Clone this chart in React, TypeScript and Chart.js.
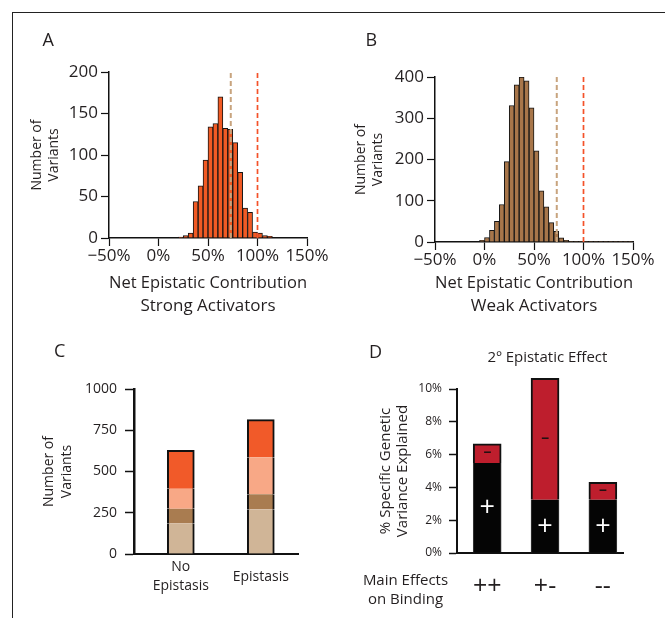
import React, { useEffect, useRef } from 'react';
import { Chart, registerables } from 'chart.js';

Chart.register(...registerables);

const FONT = "'Open Sans', 'Noto Sans', sans-serif";
const INK = '#231F20';

// ---------- Panel A / B : histograms ----------
const BIN_WIDTH = 5;
const histTickValues = [-50, 0, 50, 100, 150];
const strongBinStart = [20, 25, 30, 35, 40, 45, 50, 55, 60, 65, 70, 75, 80, 85, 90, 95, 100, 105, 110];
const strongCounts = [1, 3, 6, 44, 63, 94, 134, 138, 170, 132, 131, 115, 79, 36, 31, 7, 6, 3, 2];
const weakBinStart = [-5, 0, 5, 10, 15, 20, 25, 30, 35, 40, 45, 50, 55, 60, 65, 70, 75, 80, 85, 90, 95, 100, 105, 110, 115, 120, 125, 130, 135, 140, 145];
const weakCounts = [4, 11, 28, 50, 91, 195, 331, 381, 400, 391, 325, 221, 124, 85, 47, 26, 10, 4, 1, 1, 1, 1, 1, 1, 1, 1, 1, 1, 1, 1, 1];
const strongYTicks = [0, 50, 100, 150, 200];
const weakYTicks = [0, 100, 200, 300, 400];
const observedLine = 73; // tan dashed
const additiveLine = 100; // red dashed

// ---------- Panel C : stacked bars ----------
const cCategories = [['No', 'Epistasis'], ['Epistasis']];
const cTan = [186, 271];
const cBrown = [89, 91];
const cSalmon = [121, 224];
const cOrange = [232, 228];
const cYTicks = [0, 250, 500, 750, 1000];

// ---------- Panel D : variance explained ----------
const dCategories = ['++', '+-', '--'];
const dPositive = [5.49, 3.25, 3.25];
const dNegative = [1.16, 7.4, 1.06];
const dSegmentMarks = ['+', '\u2212'];
const dYTicks = [0, 2, 4, 6, 8, 10];

const pct = (v: number) => (v < 0 ? '\u2212' : '') + Math.abs(v) + '%';

function setTicks(values: number[]) {
  return (s: any) => {
    s.ticks = values.map((v) => ({ value: v }));
  };
}

function histConfig(
  starts: number[],
  counts: number[],
  color: string,
  yTicks: number[],
  title2: string,
  yTitlePad: number,
  yWidth: number,
  xHeight: number,
  padTop: number,
  padRight: number
): any {
  const yMax = yTicks[yTicks.length - 1];
  return {
    type: 'bar',
    data: {
      datasets: [
        {
          type: 'line',
          data: [
            { x: observedLine, y: 0 },
            { x: observedLine, y: yMax },
          ],
          borderColor: '#C8A47E',
          borderWidth: 2,
          borderDash: [5, 3],
          pointRadius: 0,
          order: 0,
        },
        {
          type: 'line',
          data: [
            { x: additiveLine, y: 0 },
            { x: additiveLine, y: yMax },
          ],
          borderColor: '#F4522A',
          borderWidth: 1.7,
          borderDash: [5, 3],
          pointRadius: 0,
          order: 0,
        },
        {
          type: 'bar',
          data: starts.map((s, i) => ({ x: s + BIN_WIDTH / 2, y: counts[i] })),
          backgroundColor: color,
          borderColor: '#151515',
          borderWidth: 1,
          barPercentage: 1,
          categoryPercentage: 1,
          order: 1,
        },
      ],
    },
    options: {
      responsive: false,
      animation: false,
      events: [],
      layout: { padding: { top: padTop, right: padRight, left: 0, bottom: 0 } },
      plugins: { legend: { display: false }, tooltip: { enabled: false } },
      scales: {
        x: {
          type: 'linear',
          min: histTickValues[0],
          max: histTickValues[histTickValues.length - 1],
          offset: false,
          afterBuildTicks: setTicks(histTickValues),
          afterFit: (s: any) => {
            s.height = xHeight;
          },
          grid: { display: true, drawOnChartArea: false, drawTicks: true, tickLength: 8, tickColor: '#111', tickWidth: 1.2, offset: false },
          border: { display: true, color: '#111', width: 1.5 },
          ticks: { callback: (v: number) => pct(v), font: { family: FONT, size: 17 }, color: INK, padding: 0, maxRotation: 0, autoSkip: false },
          title: {
            display: true,
            text: ['Net Epistatic Contribution', title2],
            font: { family: FONT, size: 17, lineHeight: 23 / 17 },
            color: INK,
            padding: { top: 0, bottom: 6 },
          },
        },
        y: {
          min: 0,
          max: yMax,
          afterBuildTicks: setTicks(yTicks),
          afterFit: (s: any) => {
            s.width = yWidth;
          },
          grid: { display: true, drawOnChartArea: false, drawTicks: true, tickLength: 8, tickColor: '#111', tickWidth: 1.2 },
          border: { display: true, color: '#111', width: 1.5 },
          ticks: { callback: (v: number) => String(v), font: { family: FONT, size: 17 }, color: INK, padding: 3 },
          title: {
            display: true,
            text: ['Number of', 'Variants'],
            font: { family: FONT, size: 14, lineHeight: 1.25 },
            color: INK,
            padding: { top: yTitlePad, bottom: 0 },
          },
        },
      },
    },
  };
}

function cConfig(): any {
  const mk = (vals: number[], color: string, top: boolean) => ({
    data: vals.map((v, i) => ({ x: i + 1, y: v })),
    backgroundColor: color,
    borderColor: '#111',
    borderWidth: top ? { top: 2, left: 2, right: 2, bottom: 0 } : { top: 0, left: 2, right: 2, bottom: 0 },
    borderSkipped: false,
    barThickness: 27,
  });
  return {
    type: 'bar',
    data: {
      datasets: [
        mk(cTan, '#D0B597', false),
        mk(cBrown, '#A97C50', false),
        mk(cSalmon, '#F8A886', false),
        mk(cOrange, '#F15A29', true),
      ],
    },
    options: {
      responsive: false,
      animation: false,
      events: [],
      layout: { padding: { top: 59, right: 32, left: 0, bottom: 0 } },
      plugins: { legend: { display: false }, tooltip: { enabled: false } },
      scales: {
        x: {
          type: 'linear',
          stacked: true,
          min: 0.415,
          max: 2.465,
          offset: false,
          afterBuildTicks: setTicks([1, 2]),
          afterFit: (s: any) => {
            s.height = 64;
          },
          grid: { display: true, drawOnChartArea: false, drawTicks: false },
          border: { display: true, color: '#111', width: 2 },
          ticks: {
            callback: (v: number) => cCategories[Math.round(v) - 1],
            font: { family: FONT, size: 14, lineHeight: 1.39 },
            color: INK,
            padding: 13,
            crossAlign: 'center',
            maxRotation: 0,
            autoSkip: false,
          },
        },
        y: {
          stacked: true,
          min: 0,
          max: cYTicks[cYTicks.length - 1],
          afterBuildTicks: setTicks(cYTicks),
          afterFit: (s: any) => {
            s.width = 120;
          },
          grid: { display: true, drawOnChartArea: false, drawTicks: true, tickLength: 9, tickColor: '#111', tickWidth: 1.5 },
          border: { display: true, color: '#111', width: 2.5 },
          ticks: { callback: (v: number) => String(v), font: { family: FONT, size: 14 }, color: INK, padding: 8 },
          title: {
            display: true,
            text: ['Number of', 'Variants'],
            font: { family: FONT, size: 14, lineHeight: 1.3 },
            color: INK,
            padding: { top: 26, bottom: 0 },
          },
        },
      },
    },
  };
}

const segmentMarksPlugin = {
  id: 'segmentMarks',
  afterDatasetsDraw(chart: any) {
    const ctx = chart.ctx;
    chart.data.datasets.forEach((_ds: any, di: number) => {
      const meta = chart.getDatasetMeta(di);
      const mark = dSegmentMarks[di];
      meta.data.forEach((el: any) => {
        const p = el.getProps(['x', 'y', 'base'], true);
        ctx.save();
        ctx.textAlign = 'center';
        ctx.textBaseline = 'middle';
        if (di === 0) {
          ctx.font = `27px ${FONT}`;
          ctx.fillStyle = '#FFFFFF';
          ctx.fillText(mark, p.x, (p.y + p.base) / 2 + 1);
        } else {
          ctx.font = `bold 14px ${FONT}`;
          ctx.fillStyle = '#1a1010';
          ctx.fillText(mark, p.x, (p.y + p.base) / 2);
        }
        ctx.restore();
      });
    });
  },
};

function dConfig(): any {
  return {
    type: 'bar',
    data: {
      datasets: [
        {
          data: dPositive.map((v, i) => ({ x: i + 1, y: v })),
          backgroundColor: '#050505',
          borderColor: '#3a3a3a',
          borderWidth: { top: 0, left: 1, right: 1, bottom: 0 },
          borderSkipped: false,
          barThickness: 28,
          clip: false,
        },
        {
          data: dNegative.map((v, i) => ({ x: i + 1, y: v })),
          backgroundColor: '#BE1E2D',
          borderColor: '#111',
          borderWidth: { top: 2, left: 2, right: 2, bottom: 0 },
          borderSkipped: false,
          barThickness: 28,
          clip: false,
        },
      ],
    },
    options: {
      responsive: false,
      animation: false,
      events: [],
      layout: { padding: { top: 59, right: 42, left: 0, bottom: 0 } },
      plugins: { legend: { display: false }, tooltip: { enabled: false } },
      scales: {
        x: {
          type: 'linear',
          stacked: true,
          min: 0.478,
          max: 3.348,
          offset: false,
          afterBuildTicks: setTicks([1, 2, 3]),
          afterFit: (s: any) => {
            s.height = 65;
          },
          grid: { display: true, drawOnChartArea: false, drawTicks: false },
          border: { display: true, color: '#111', width: 2 },
          ticks: {
            callback: (v: number) => dCategories[Math.round(v) - 1],
            font: { family: FONT, size: 25, lineHeight: 1.2 },
            color: INK,
            padding: 19,
            maxRotation: 0,
            autoSkip: false,
          },
        },
        y: {
          stacked: true,
          min: 0,
          max: dYTicks[dYTicks.length - 1],
          afterBuildTicks: setTicks(dYTicks),
          afterFit: (s: any) => {
            s.width = 123;
          },
          grid: { display: true, drawOnChartArea: false, drawTicks: true, tickLength: 8, tickColor: '#111', tickWidth: 1.5 },
          border: { display: true, color: '#111', width: 2 },
          ticks: { callback: (v: number) => v + '%', font: { family: FONT, size: 12 }, color: INK, padding: 7 },
          title: {
            display: true,
            text: ['% Specific Genetic', 'Variance Explained'],
            font: { family: FONT, size: 15, lineHeight: 17 / 15 },
            color: INK,
            padding: { top: 43, bottom: 0 },
          },
        },
      },
    },
    plugins: [segmentMarksPlugin],
  };
}

function ChartCanvas(props: { left: number; top: number; width: number; height: number; make: () => any }) {
  const ref = useRef<HTMLCanvasElement | null>(null);
  useEffect(() => {
    if (!ref.current) return;
    const chart = new Chart(ref.current, props.make());
    return () => chart.destroy();
  }, []);
  return (
    <canvas
      ref={ref}
      width={props.width}
      height={props.height}
      style={{ position: 'absolute', left: props.left, top: props.top, width: props.width, height: props.height }}
    />
  );
}

const textBase: React.CSSProperties = {
  position: 'absolute',
  fontFamily: FONT,
  color: INK,
  whiteSpace: 'nowrap',
};

export default function App() {
  return (
    <div style={{ position: 'absolute', left: 0, top: 0, width: 665, height: 618, background: '#fff', overflow: 'hidden' }}>
      <div style={{ position: 'absolute', left: 12, top: 12, width: 700, height: 700, borderLeft: '1px solid #222', borderTop: '1px solid #222' }} />
      <ChartCanvas
        left={14}
        top={14}
        width={316}
        height={310}
        make={() => histConfig(strongBinStart, strongCounts, '#F15A24', strongYTicks, 'Strong Activators', 14, 95, 86, 58, 23)}
      />
      <ChartCanvas
        left={334}
        top={14}
        width={331}
        height={310}
        make={() => histConfig(weakBinStart, weakCounts, '#A8764A', weakYTicks, 'Weak Activators', 18, 101, 82, 63, 32)}
      />
      <ChartCanvas left={14} top={330} width={316} height={288} make={cConfig} />
      <ChartCanvas left={334} top={330} width={331} height={288} make={dConfig} />

      <div style={{ ...textBase, left: 42.5, top: 30, fontSize: 18, lineHeight: '18px' }}>A</div>
      <div style={{ ...textBase, left: 365.5, top: 30, fontSize: 18, lineHeight: '18px' }}>B</div>
      <div style={{ ...textBase, left: 54, top: 341, fontSize: 18, lineHeight: '18px' }}>C</div>
      <div style={{ ...textBase, left: 369, top: 342, fontSize: 18, lineHeight: '18px' }}>D</div>
      <div style={{ ...textBase, left: 447.5, width: 200, textAlign: 'center', top: 349, fontSize: 15, lineHeight: '15px' }}>
        2º Epistatic Effect
      </div>
      <div style={{ ...textBase, left: 355.5, width: 100, textAlign: 'center', top: 570, fontSize: 15, lineHeight: '19px' }}>
        Main Effects
        <br />
        on Binding
      </div>
    </div>
  );
}
